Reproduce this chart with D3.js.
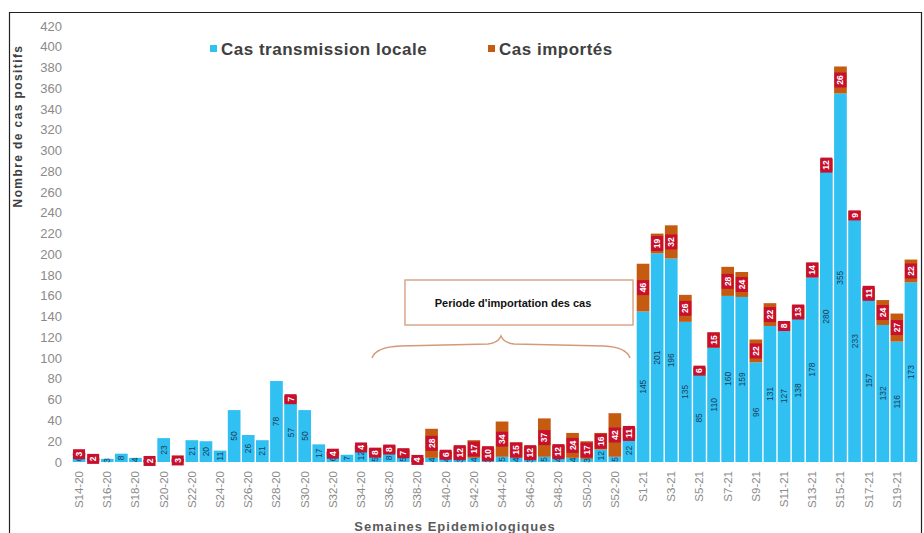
<!DOCTYPE html>
<html>
<head>
<meta charset="utf-8">
<script src="https://cdn.jsdelivr.net/npm/d3@7"></script>
<style>
  body { margin: 0; background: #fff; }
  svg { font-family: "Liberation Sans", Arial, sans-serif; }
</style>
</head>
<body>
<svg width="924" height="533"></svg>
<script>
// weeks S14-20 .. S53-20, S1-21 .. S20-21
var weeks = [];
for (var w = 14; w <= 53; w++) weeks.push('S' + w + '-20');
for (var w2 = 1; w2 <= 20; w2++) weeks.push('S' + w2 + '-21');

var local = [6, 2, 3, 8, 4, 0, 23, 0, 21, 20, 11, 50, 26, 21, 78, 57, 50, 17, 6, 7,
             12, 5, 8, 5, 0, 4, 4, 3, 4, 3, 5, 4, 3, 5, 4, 4, 3, 12, 5, 22,
             145, 201, 196, 135, 85, 110, 160, 159, 96, 131, 127, 138, 178, 280, 355, 233, 157, 132, 116, 173];
var imported = [3, 2, 0, 0, 0, 2, 0, 3, 0, 0, 0, 0, 0, 0, 0, 7, 0, 0, 4, 0,
                4, 8, 8, 7, 4, 28, 6, 12, 17, 10, 34, 15, 12, 37, 12, 24, 17, 16, 42, 11,
                46, 19, 32, 26, 6, 15, 28, 24, 22, 22, 8, 13, 14, 12, 26, 9, 11, 24, 27, 22];

var yTicks = d3.range(0, 421, 20);

var svg = d3.select('svg'),
    g = svg.append('g');

var x = d3.scaleBand()
    .domain(weeks)
    .range([72, 918])
    .paddingInner(0.1)
    .paddingOuter(0.05);

var y = d3.scaleLinear()
    .domain([0, 420])
    .range([462, 26]);

var blue = '#30c1f2',
    orange = '#c55a11';

// frame
svg.append('path')
    .attr('d', 'M9.5,540 V12.5 H921.5 V540')
    .attr('fill', 'none')
    .attr('stroke', '#222')
    .attr('stroke-width', 1.2);

// y tick labels
g.selectAll('.ytick')
    .data(yTicks)
    .enter()
    .append('text')
    .attr('x', 62)
    .attr('y', function(d) { return y(d) + 4.5; })
    .attr('text-anchor', 'end')
    .attr('font-size', 13)
    .attr('fill', '#8a8a8a')
    .text(function(d) { return d; });

var rows = weeks.map(function(wk, i) {
    return { week: wk, local: local[i], imported: imported[i], i: i };
});

// local segments
g.selectAll('.loc')
    .data(rows)
    .enter()
    .append('rect')
    .attr('x', function(d) { return x(d.week); })
    .attr('width', x.bandwidth())
    .attr('y', function(d) { return y(d.local); })
    .attr('height', function(d) { return y(0) - y(d.local); })
    .attr('fill', blue);

// imported segments
g.selectAll('.imp')
    .data(rows)
    .enter()
    .append('rect')
    .attr('x', function(d) { return x(d.week); })
    .attr('width', x.bandwidth())
    .attr('y', function(d) { return y(d.local + d.imported); })
    .attr('height', function(d) { return y(d.local) - y(d.local + d.imported); })
    .attr('fill', orange);

// local value labels (rotated)
g.selectAll('.loclab')
    .data(rows.filter(function(d) { return d.local > 0; }))
    .enter()
    .append('text')
    .attr('transform', function(d) {
        var cx = x(d.week) + x.bandwidth() / 2,
            cy = y(d.local / 2);
        return 'translate(' + (cx + 3) + ',' + cy + ') rotate(-90)';
    })
    .attr('text-anchor', 'middle')
    .attr('font-size', 8.5)
    .attr('fill', '#1f3c5a')
    .text(function(d) { return d.local; });

// imported value labels in red boxes
var impLab = g.selectAll('.implab')
    .data(rows.filter(function(d) { return d.imported > 0; }))
    .enter()
    .append('g')
    .attr('transform', function(d) {
        var cx = x(d.week) + x.bandwidth() / 2,
            cy = y(d.local + d.imported / 2);
        return 'translate(' + cx + ',' + cy + ')';
    });

impLab.append('rect')
    .attr('x', -6)
    .attr('width', 12)
    .attr('y', function(d) { return -(String(d.imported).length * 5 + 5) / 2; })
    .attr('height', function(d) { return String(d.imported).length * 5 + 5; })
    .attr('fill', '#c8102e');

impLab.append('text')
    .attr('transform', 'translate(3,0) rotate(-90)')
    .attr('text-anchor', 'middle')
    .attr('font-size', 8.5)
    .attr('font-weight', 'bold')
    .attr('fill', '#fff')
    .text(function(d) { return d.imported; });

// x tick labels, every second week
g.selectAll('.xtick')
    .data(weeks.filter(function(d, i) { return i % 2 === 0; }))
    .enter()
    .append('text')
    .attr('transform', function(d) {
        return 'translate(' + (x(d) + x.bandwidth() / 2 + 4) + ',471) rotate(-90)';
    })
    .attr('text-anchor', 'end')
    .attr('font-size', 11.5)
    .attr('fill', '#8a8a8a')
    .text(function(d) { return d; });

// axis titles
svg.append('text')
    .attr('transform', 'translate(22,126) rotate(-90)')
    .attr('text-anchor', 'middle')
    .attr('font-size', 12)
    .attr('letter-spacing', 1.4)
    .attr('font-weight', 'bold')
    .attr('fill', '#404040')
    .text('Nombre de cas positifs');

svg.append('text')
    .attr('x', 455)
    .attr('y', 531)
    .attr('text-anchor', 'middle')
    .attr('font-size', 13)
    .attr('letter-spacing', 1)
    .attr('font-weight', 'bold')
    .attr('fill', '#5a5a5a')
    .text('Semaines Epidemiologiques');

// legend
var legend = [['Cas transmission locale', blue, 210], ['Cas importés', orange, 488]];
var lg = svg.selectAll('.leg')
    .data(legend)
    .enter()
    .append('g')
    .attr('transform', function(d) { return 'translate(' + d[2] + ',0)'; });
lg.append('rect')
    .attr('x', 0).attr('y', 45).attr('width', 7).attr('height', 7)
    .attr('fill', function(d) { return d[1]; });
lg.append('text')
    .attr('x', 11).attr('y', 55)
    .attr('font-size', 17)
    .attr('letter-spacing', 0.5)
    .attr('font-weight', 'bold')
    .attr('fill', '#404040')
    .text(function(d) { return d[0]; });

// annotation box and brace
svg.append('rect')
    .attr('x', 405).attr('y', 280).attr('width', 228).attr('height', 45)
    .attr('fill', '#fff')
    .attr('stroke', '#d8a88a')
    .attr('stroke-width', 1.5);
svg.append('text')
    .attr('x', 513).attr('y', 307)
    .attr('text-anchor', 'middle')
    .attr('font-size', 11)
    .attr('font-weight', 'bold')
    .attr('fill', '#111')
    .text("Periode d'importation des cas");

svg.append('path')
    .attr('d', 'M372,358 Q376,347 400,346 L488,344 Q498,343 501,336 Q504,343 514,344 L604,346 Q626,347 630,358')
    .attr('fill', 'none')
    .attr('stroke', '#d49a78')
    .attr('stroke-width', 1.5);
</script>
</body>
</html>
